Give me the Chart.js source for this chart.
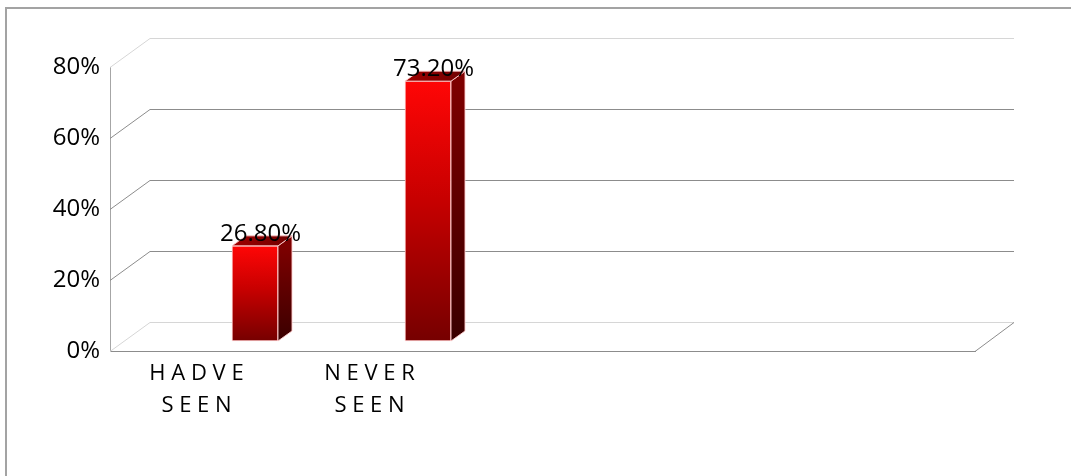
<!DOCTYPE html>
<html>
<head>
<meta charset="utf-8">
<script src="https://cdn.jsdelivr.net/npm/chart.js@4.4.1/dist/chart.umd.min.js"></script>
<style>
    html, body { margin: 0; padding: 0; background: #fff; overflow: hidden; }
    #wrap { position: relative; width: 1071px; height: 476px; overflow: hidden; }
    #frame {
        position: absolute; left: 5px; top: 7px; width: 1300px; height: 700px;
        border-left: 2px solid #a3a3a3; border-top: 2px solid #a3a3a3;
    }
    #myChart { position: absolute; left: 0; top: 0; }
</style>
</head>
<body>
<div id="wrap">
    <div id="frame"></div>
    <canvas id="myChart" width="1071" height="476"></canvas>
</div>
<script>
// category slots (the last three are empty in the sheet)
var categories = ['HADVE SEEN', 'NEVER SEEN', '', '', ''];
var seenValues = [26.8, 73.2, null, null, null];
var yTickValues = [0, 20, 40, 60, 80];

// 3D look: depth of the back wall / floor and of each column
var WALL_DX = 40, WALL_DY = -29;
var BAR_SHIFT_X = 58.5, BAR_SHIFT_Y = -10;
var BAR_DX = 14, BAR_DY = -10;
var FONT = '"Open Sans", "Noto Sans", sans-serif';

function frontGradient(context) {
    var chart = context.chart;
    if (!chart.chartArea || context.raw == null) return '#c00000';
    var y = chart.scales.y;
    var g = chart.ctx.createLinearGradient(0, y.getPixelForValue(context.raw), 0, y.getPixelForValue(0));
    g.addColorStop(0, '#ff0606');
    g.addColorStop(0.45, '#c80000');
    g.addColorStop(1, '#760000');
    return g;
}

var wall3d = {
    id: 'wall3d',
    beforeDatasetsDraw: function(chart) {
        var ctx = chart.ctx, area = chart.chartArea, y = chart.scales.y;
        ctx.save();
        ctx.lineWidth = 1;
        yTickValues.forEach(function(v) {
            var py = Math.round(y.getPixelForValue(v)) + 0.5;
            ctx.strokeStyle = (v === 0 || v === 80) ? '#d6d6d6' : '#8c8c8c';
            ctx.beginPath();
            ctx.moveTo(area.left, py);
            ctx.lineTo(area.left + WALL_DX, py + WALL_DY);
            ctx.lineTo(area.right + WALL_DX - 1, py + WALL_DY);
            ctx.stroke();
        });
        // right edge of the floor
        var pb = Math.round(y.getPixelForValue(0)) + 0.5;
        ctx.strokeStyle = '#8c8c8c';
        ctx.beginPath();
        ctx.moveTo(area.right, pb);
        ctx.lineTo(area.right + WALL_DX - 1, pb + WALL_DY);
        ctx.stroke();
        ctx.restore();

        // columns sit half way into the floor
        ctx.save();
        ctx.translate(BAR_SHIFT_X, BAR_SHIFT_Y);
    },
    afterDatasetsDraw: function(chart) {
        var ctx = chart.ctx;
        var meta = chart.getDatasetMeta(0);
        meta.data.forEach(function(bar, i) {
            if (seenValues[i] == null) return;
            var p = bar.getProps(['x', 'y', 'base', 'width'], true);
            var L = p.x - p.width / 2, R = p.x + p.width / 2;

            // side face
            var gs = ctx.createLinearGradient(0, p.y, 0, p.base);
            gs.addColorStop(0, '#7e0000');
            gs.addColorStop(1, '#3a0000');
            ctx.fillStyle = gs;
            ctx.strokeStyle = 'rgba(255,205,205,0.9)';
            ctx.lineWidth = 1;
            ctx.beginPath();
            ctx.moveTo(R, p.y);
            ctx.lineTo(R + BAR_DX, p.y + BAR_DY);
            ctx.lineTo(R + BAR_DX, p.base + BAR_DY);
            ctx.lineTo(R, p.base);
            ctx.closePath();
            ctx.fill();
            ctx.stroke();

            // top face
            var gt = ctx.createLinearGradient(L, 0, R + BAR_DX, 0);
            gt.addColorStop(0, '#a00000');
            gt.addColorStop(1, '#6e0000');
            ctx.fillStyle = gt;
            ctx.beginPath();
            ctx.moveTo(L, p.y);
            ctx.lineTo(L + BAR_DX, p.y + BAR_DY);
            ctx.lineTo(R + BAR_DX, p.y + BAR_DY);
            ctx.lineTo(R, p.y);
            ctx.closePath();
            ctx.fill();
            ctx.stroke();

            // value label
            ctx.fillStyle = '#000';
            ctx.font = '24px ' + FONT;
            ctx.textAlign = 'center';
            ctx.textBaseline = 'middle';
            ctx.fillText(seenValues[i].toFixed(2) + '%', p.x + 5.5, p.y - 12);
        });
        ctx.restore();
    }
};

var dataObj = {
    type: 'bar',
    data: {
        labels: categories,
        datasets: [{
            label: 'Seen',
            data: seenValues,
            backgroundColor: frontGradient,
            borderColor: 'rgba(255,200,200,0.9)',
            borderWidth: 1,
            borderSkipped: false,
            barThickness: 46,
            clip: false
        }]
    },
    options: {
        responsive: false,
        animation: false,
        events: [],
        layout: { padding: { left: 0, top: 67, right: 96, bottom: 0 } },
        plugins: { legend: { display: false }, tooltip: { enabled: false } },
        scales: {
            x: {
                grid: { display: false, drawTicks: false },
                border: { display: true, color: '#8c8c8c', width: 1 },
                ticks: {
                    autoSkip: false,
                    maxRotation: 0,
                    padding: 7,
                    color: '#000',
                    font: { family: FONT, size: 22, lineHeight: 1.45 },
                    callback: function(v, i) {
                        var name = categories[i];
                        if (!name) return '';
                        return name.split(' ').map(function(w) { return w.split('').join(' '); });
                    }
                },
                afterFit: function(s) { s.height = 125; }
            },
            y: {
                min: 0,
                max: 80,
                ticks: {
                    stepSize: 20,
                    padding: 10,
                    color: '#000',
                    font: { family: FONT, size: 24 },
                    callback: function(v) { return v + '%'; }
                },
                grid: { display: false, drawTicks: false },
                border: { display: true, color: '#a6a6a6', width: 1 },
                afterFit: function(s) { s.width = 110; }
            }
        }
    },
    plugins: [wall3d]
};

var ctx = document.getElementById('myChart').getContext('2d');
window.myBar = new Chart(ctx, dataObj);
</script>
</body>
</html>
